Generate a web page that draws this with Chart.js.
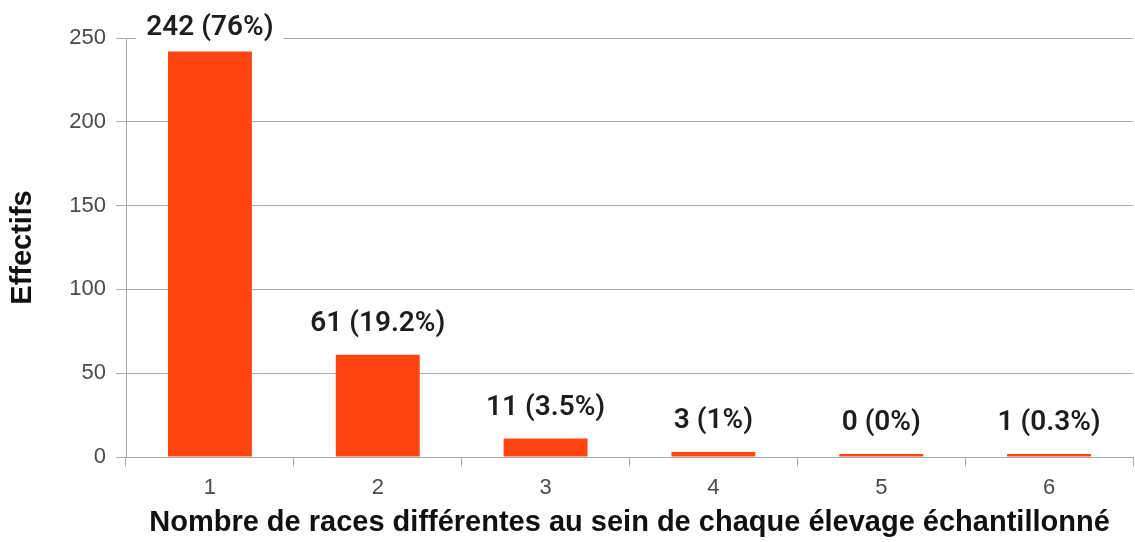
<!DOCTYPE html>
<html>
<head>
<meta charset="utf-8">
<script src="https://cdn.jsdelivr.net/npm/chart.js@4.4.0/dist/chart.umd.min.js"></script>
<style>
  html, body { margin: 0; padding: 0; background: #fff; }
  #wrap { width: 1135px; height: 542px; }
</style>
</head>
<body>
<div id="wrap"><canvas id="bar-chart" width="1135" height="542"></canvas></div>
<script>
// DATA
const categories = ['1', '2', '3', '4', '5', '6'];
const counts = [242, 61, 11, 3, 0, 1];
const percents = ['76%', '19.2%', '3.5%', '1%', '0%', '0.3%'];
const yTicks = [0, 50, 100, 150, 200, 250];

const barLabels = counts.map(function (c, i) {
    return c + ' (' + percents[i] + ')';
});

// labels above the bars, white box behind so gridlines are cut
const valueLabels = {
    id: 'valueLabels',
    afterDatasetsDraw: function (chart) {
        var ctx = chart.ctx;
        var meta = chart.getDatasetMeta(0);
        ctx.save();
        ctx.font = '600 28px Roboto';
        ctx.textAlign = 'center';
        ctx.textBaseline = 'middle';
        meta.data.forEach(function (bar, i) {
            var txt = barLabels[i];
            var y = Math.max(bar.y - 31, 28);
            var w = ctx.measureText(txt).width;
            ctx.fillStyle = '#fff';
            ctx.fillRect(bar.x - w / 2 - 10, y - 15, w + 20, 30);
            ctx.fillStyle = '#1e1e1e';
            ctx.fillText(txt, bar.x, y);
        });
        ctx.restore();
    }
};

var chart = document.querySelector('#bar-chart');
var myChart = new Chart(
    chart, {
        type: 'bar',
        data: {
            labels: categories,
            datasets: [{
                data: counts,
                backgroundColor: '#ff4510',
                barPercentage: 0.5,
                categoryPercentage: 1,
                minBarLength: 3
            }]
        },
        options: {
            responsive: false,
            animation: false,
            layout: {
                padding: { top: 38, right: 2, left: 0, bottom: 0 }
            },
            plugins: {
                legend: { display: false },
                tooltip: { enabled: false }
            },
            scales: {
                x: {
                    grid: {
                        offset: true,
                        drawOnChartArea: false,
                        drawTicks: true,
                        tickLength: 9,
                        color: '#aaaaaa'
                    },
                    border: { color: '#aaaaaa' },
                    ticks: {
                        color: '#4a4a4a',
                        padding: 9,
                        font: { size: 22, family: 'Liberation Sans' }
                    },
                    title: {
                        display: true,
                        text: 'Nombre de races différentes au sein de chaque élevage échantillonné',
                        color: '#111',
                        padding: { top: 0, bottom: 2 },
                        font: { size: 29, weight: 'bold', family: 'Liberation Sans' }
                    },
                    afterFit: function (axis) { axis.height = 85; }
                },
                y: {
                    min: 0,
                    max: 250,
                    afterBuildTicks: function (axis) {
                        axis.ticks = yTicks.map(function (v) { return { value: v }; });
                    },
                    grid: {
                        color: '#aaaaaa',
                        tickLength: 10
                    },
                    border: { color: '#aaaaaa' },
                    ticks: {
                        color: '#4a4a4a',
                        padding: 10,
                        font: { size: 22, family: 'Liberation Sans' }
                    },
                    title: {
                        display: true,
                        text: 'Effectifs',
                        color: '#111',
                        padding: { top: 6, bottom: 12 },
                        font: { size: 29, weight: 'bold', family: 'Liberation Sans' }
                    },
                    afterFit: function (axis) { axis.width = 126; }
                }
            }
        },
        plugins: [valueLabels]
    }
);
</script>
</body>
</html>
